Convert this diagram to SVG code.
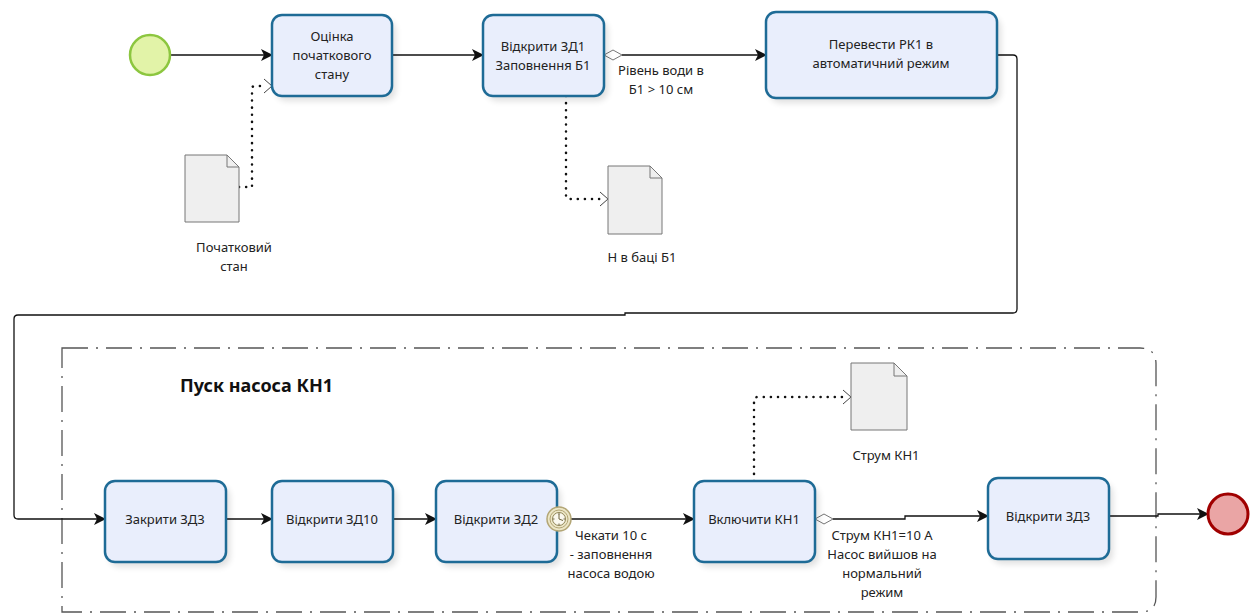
<svg xmlns="http://www.w3.org/2000/svg" width="1256" height="615" viewBox="0 0 1256 615">
<style>
.task{fill:#e9eefc;stroke:#1e6b96;stroke-width:2.5}
.shadow{fill:#000;opacity:0.12}
.t{font-family:"Noto Sans","Open Sans",sans-serif;font-size:13px;fill:#222;text-anchor:middle}
.flow{fill:none;stroke:#111;stroke-width:1.3}
.assoc{fill:none;stroke:#111;stroke-width:2.5;stroke-dasharray:0.1 7;stroke-linecap:round}
.doc{fill:#efefef;stroke:#777;stroke-width:1}
</style>
<defs>
<marker id="arr" viewBox="0 0 12 12" refX="11" refY="6" markerWidth="12" markerHeight="12" markerUnits="userSpaceOnUse" orient="auto">
<path d="M0,0 L12,6 L0,12 L3,6 Z" fill="#111"/>
</marker>
<filter id="blur" x="-20%" y="-20%" width="140%" height="140%"><feGaussianBlur stdDeviation="3"/></filter>
</defs>

<g id="group-pusk">
<path d="M62,348 L1140,348 Q1156,348 1156,364 L1156,597 Q1156,612 1141,612 L62,612 Z" fill="none" stroke="#555" stroke-width="1.3" stroke-dasharray="26 8 2 8"/>
<text x="180" y="392" font-family="Noto Sans,Open Sans,sans-serif" font-size="18" font-weight="bold" fill="#111">Пуск насоса КН1</text>
</g>

<g id="connectors">
<path class="flow" d="M170,55 L272,55" marker-end="url(#arr)"/>
<path class="flow" d="M392,55 L483,55" marker-end="url(#arr)"/>
<path class="flow" d="M622,55 L766,55" marker-end="url(#arr)"/>
<path d="M604,55 L613,50 L622,55 L613,60 Z" fill="#fff" stroke="#777" stroke-width="1"/>
<path class="flow" d="M997,55 L1013,55 Q1017,55 1017,59 L1017,309 Q1017,313 1013,313 L625,313 L625,315 L18,315 Q14,315 14,319 L14,515 Q14,519 18,519 L105,519" marker-end="url(#arr)"/>
<path class="flow" d="M226,519 L272,519" marker-end="url(#arr)"/>
<path class="flow" d="M393,519 L436,519" marker-end="url(#arr)"/>
<path class="flow" d="M571,519 L694,519" marker-end="url(#arr)"/>
<path class="flow" d="M833,519 L905,519 L905,516 L988,516" marker-end="url(#arr)"/>
<path d="M815,519 L824,514 L833,519 L824,524 Z" fill="#fff" stroke="#777" stroke-width="1"/>
<path class="flow" d="M1109,516 L1158,516 L1158,514 L1208,514" marker-end="url(#arr)"/>
<path class="assoc" d="M239,187 L252,187 L252,88 Q252,86 256,86 L266,86"/>
<path d="M264,79 L272,86 L264,93" fill="none" stroke="#444" stroke-width="1"/>
<path class="assoc" d="M566,96 L566,197 Q566,199 570,199 L602,199"/>
<path d="M600,192 L608,199 L600,206" fill="none" stroke="#444" stroke-width="1"/>
<path class="assoc" d="M754,481 L754,400 Q754,397 758,397 L845,397"/>
<path d="M843,390 L851,397 L843,404" fill="none" stroke="#444" stroke-width="1"/>
<text class="t" x="661" y="75">Рівень води в</text>
<text class="t" x="661" y="94">Б1 &gt; 10 см</text>
<text class="t" x="611" y="540">Чекати 10 с</text>
<text class="t" x="611" y="559">- заповнення</text>
<text class="t" x="611" y="578">насоса водою</text>
<text class="t" x="882" y="540">Струм КН1=10 А</text>
<text class="t" x="882" y="559">Насос вийшов на</text>
<text class="t" x="882" y="578">нормальний</text>
<text class="t" x="882" y="597">режим</text>
</g>

<g id="start">
<circle cx="150" cy="55" r="20" fill="#e2f3a8" stroke="#8cc63f" stroke-width="2.5"/>
</g>

<g id="task-otsinka">
<rect class="shadow" x="276" y="20" width="120" height="81" rx="10" filter="url(#blur)"/>
<rect class="task" x="272" y="15" width="120" height="81" rx="10"/>
<text class="t" x="332" y="41">Оцінка</text>
<text class="t" x="332" y="60">початкового</text>
<text class="t" x="332" y="79">стану</text>
</g>

<g id="task-zd1">
<rect class="shadow" x="487" y="20" width="121" height="81" rx="10" filter="url(#blur)"/>
<rect class="task" x="483" y="15" width="121" height="81" rx="10"/>
<text class="t" x="543" y="51">Відкрити ЗД1</text>
<text class="t" x="543" y="70">Заповнення Б1</text>
</g>

<g id="task-rk1">
<rect class="shadow" x="770" y="17" width="231" height="86" rx="10" filter="url(#blur)"/>
<rect class="task" x="766" y="12" width="231" height="86" rx="10"/>
<text class="t" x="881" y="49">Перевести РК1 в</text>
<text class="t" x="881" y="68">автоматичний режим</text>
</g>

<g id="doc-pochatkovyi">
<path class="doc" d="M185,155 L227,155 L239,167 L239,222 L185,222 Z"/>
<path d="M227,155 L227,167 L239,167" fill="none" stroke="#777" stroke-width="1"/>
<text class="t" x="234" y="252">Початковий</text>
<text class="t" x="234" y="271">стан</text>
</g>

<g id="doc-h-b1">
<path class="doc" d="M608,166 L650,166 L662,178 L662,234 L608,234 Z"/>
<path d="M650,166 L650,178 L662,178" fill="none" stroke="#777" stroke-width="1"/>
<text class="t" x="642" y="262">Н в баці Б1</text>
</g>

<g id="doc-strum">
<path class="doc" d="M851,363 L894,363 L907,376 L907,430 L851,430 Z"/>
<path d="M894,363 L894,376 L907,376" fill="none" stroke="#777" stroke-width="1"/>
<text class="t" x="886" y="460">Струм КН1</text>
</g>

<g id="task-zakryty-zd3">
<rect class="shadow" x="109" y="486" width="121" height="81" rx="10" filter="url(#blur)"/>
<rect class="task" x="105" y="481" width="121" height="81" rx="10"/>
<text class="t" x="165" y="524">Закрити ЗД3</text>
</g>

<g id="task-zd10">
<rect class="shadow" x="276" y="486" width="121" height="81" rx="10" filter="url(#blur)"/>
<rect class="task" x="272" y="481" width="121" height="81" rx="10"/>
<text class="t" x="332" y="524">Відкрити ЗД10</text>
</g>

<g id="task-zd2">
<rect class="shadow" x="440" y="486" width="121" height="81" rx="10" filter="url(#blur)"/>
<rect class="task" x="436" y="481" width="121" height="81" rx="10"/>
<text class="t" x="496" y="524">Відкрити ЗД2</text>
</g>

<g id="timer">
<circle cx="559" cy="519" r="12" fill="#ece6c6" stroke="#b3a676" stroke-width="1.5"/>
<circle cx="559" cy="519" r="9" fill="none" stroke="#b3a676" stroke-width="1"/>
<circle cx="559" cy="519" r="6.5" fill="#faf8ee" stroke="#8f8455" stroke-width="1"/>
<path d="M559,519 L559,514 M559,519 L563,520.5 M559,513 L559,514.5 M565,519 L563.5,519 M559,525 L559,523.5 M553,519 L554.5,519" stroke="#6e6540" stroke-width="1"/>
</g>

<g id="task-kn1">
<rect class="shadow" x="698" y="486" width="121" height="81" rx="10" filter="url(#blur)"/>
<rect class="task" x="694" y="481" width="121" height="81" rx="10"/>
<text class="t" x="754" y="524">Включити КН1</text>
</g>

<g id="task-vidkryty-zd3">
<rect class="shadow" x="992" y="483" width="121" height="81" rx="10" filter="url(#blur)"/>
<rect class="task" x="988" y="478" width="121" height="81" rx="10"/>
<text class="t" x="1048" y="521">Відкрити ЗД3</text>
</g>

<g id="end">
<circle cx="1228" cy="514" r="20" fill="#eaa5a5" stroke="#a00000" stroke-width="3"/>
</g>
</svg>
